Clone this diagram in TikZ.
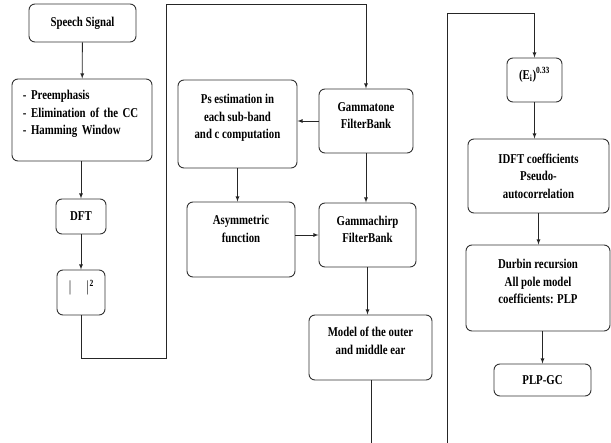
\documentclass[tikz,border=0pt]{standalone}
\usepackage{fontspec}
\setmainfont{Liberation Serif}[FakeStretch=0.8]
\usetikzlibrary{shapes.geometric, arrows}
\tikzstyle{blk} = [rectangle, rounded corners=6pt, draw=black!80, line width=0.9pt, align=center, inner sep=2pt, font=\fontsize{13.5}{17.5}\selectfont\bfseries]
\tikzstyle{arrow} = [line width=0.8pt, draw=black!85, ->, >=latex]
\tikzstyle{line} = [line width=0.8pt, draw=black!85]
\newcommand{\pushup}[1]{\\[#1]\mbox{}}

\begin{document}
\begin{tikzpicture}[x=1pt, y=-1pt]
        \useasboundingbox (0,0) rectangle (611,443);
        % first column
        \node (speech) [blk, minimum width=107pt, minimum height=38pt] at (82.5,23) {Speech Signal};
        \node (pre) [blk, align=left, text width=118pt, inner xsep=11pt, minimum height=82pt] at (82,120) {- Preemphasis\\- Elimination of the CC\\- Hamming Window\pushup{-2.5pt}};
        \node (dft) [blk, minimum width=50pt, minimum height=35pt] at (81,216.5) {DFT};
        \node (mag) [blk, minimum width=48pt, minimum height=45pt] at (81,292.5) {\mdseries$|\quad|$\textsuperscript{\bfseries 2}\pushup{-4pt}};
        % second column
        \node (ps) [blk, minimum width=119pt, minimum height=88pt] at (237.5,124) {Ps estimation in\\each sub-band\\and c computation\pushup{-2.5pt}};
        \node (gtone) [blk, minimum width=94pt, minimum height=64pt] at (366,121) {Gammatone\\FilterBank\pushup{-6.5pt}};
        \node (asym) [blk, minimum width=108pt, minimum height=75pt] at (241,239.5) {Asymmetric\\function\pushup{3.5pt}};
        \node (gchirp) [blk, minimum width=97pt, minimum height=64pt] at (367.5,235) {Gammachirp\\FilterBank\pushup{-6.5pt}};
        \node (model) [blk, minimum width=123pt, minimum height=65pt] at (370.5,347.5) {Model of the outer\\and middle ear\pushup{-3.5pt}};
        % third column
        \node (ei) [blk, minimum width=55pt, minimum height=44pt] at (534.5,80) {(E\textsubscript{i})\textsuperscript{0.33}\pushup{-4pt}};
        \node (idft) [blk, minimum width=141pt, minimum height=74pt] at (538.5,176) {IDFT coefficients\\Pseudo-\\autocorrelation};
        \node (durbin) [blk, minimum width=144pt, minimum height=86pt] at (538,288) {Durbin recursion\\All pole model\\coefficients: PLP\pushup{-4.5pt}};
        \node (plp) [blk, minimum width=97pt, minimum height=32pt] at (542.5,380) {PLP-GC};

        \coordinate (m1) at (166,358);
        \coordinate (m2) at (166,4);
        \coordinate (m3) at (371,443);
        \coordinate (r1) at (447,443);
        \coordinate (r2) at (447,13);

        \draw [arrow] (speech) -- (pre);
        \draw [arrow] (pre.south -| dft) -- (dft);
        \draw [arrow] (dft) -- (mag);
        \draw [arrow] (mag.south) |- (m1) -- (m2) -| (gtone.north);
        \draw [arrow] (gtone.west) -- (gtone.west -| ps.east);
        \draw [arrow] (ps.south) -- (ps.south |- asym.north);
        \draw [arrow] (gtone.south) -- (gtone.south |- gchirp.north);
        \draw [arrow] (asym.east |- gchirp) -- (gchirp.west);
        \draw [arrow] (gchirp.south) -- (gchirp.south |- model.north);
        \draw [line] (model.south -| m3) -- (m3);
        \draw [arrow] (r1) -- (r2) -| (ei.north);
        \draw [arrow] (ei.south) -- (ei.south |- idft.north);
        \draw [arrow] (idft.south) -- (idft.south |- durbin.north);
        \draw [arrow] (durbin.south -| plp) -- (plp.north);
        \end{tikzpicture}
\end{document}
